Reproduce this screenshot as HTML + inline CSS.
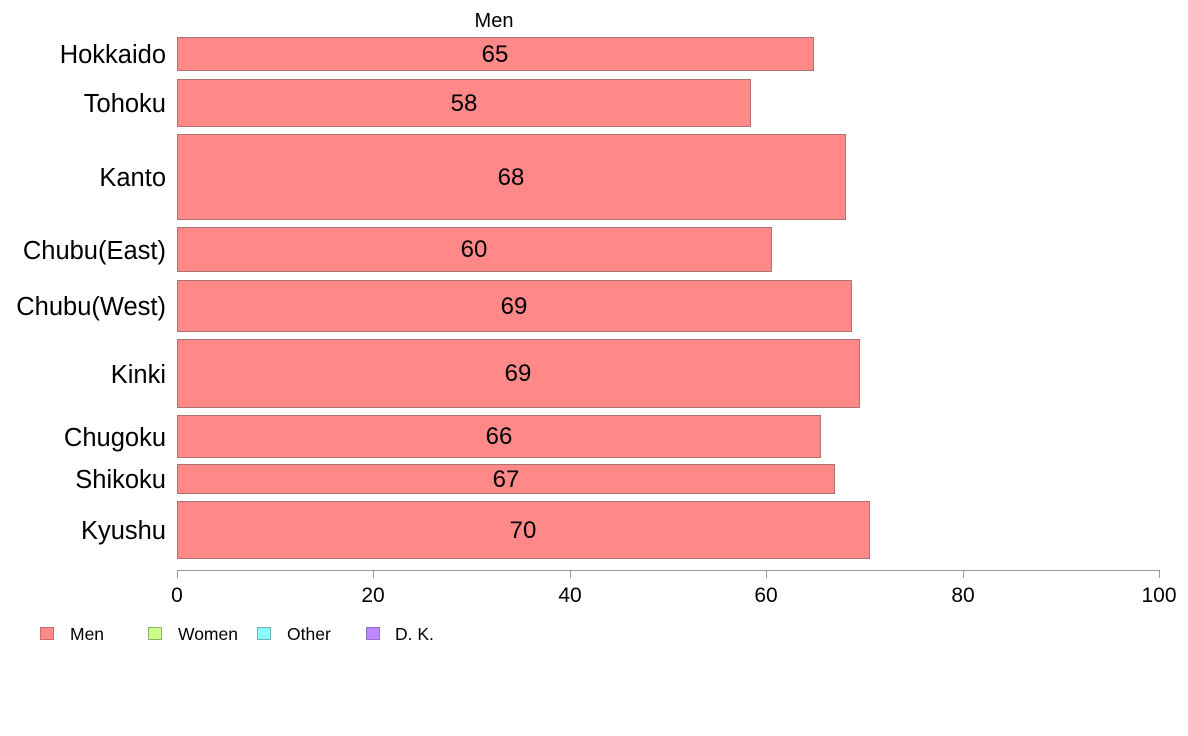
<!DOCTYPE html>
<html><head><meta charset="utf-8"><style>
html,body{margin:0;padding:0;background:#fff;}
svg{display:block;font-family:"Liberation Sans",Arial,sans-serif;}
</style></head><body>
<svg width="1188" height="736" viewBox="0 0 1188 736" xmlns="http://www.w3.org/2000/svg">
<text x="494" y="27" font-size="20" text-anchor="middle">Men</text>
<g fill="#ff8888" stroke="#b07070" stroke-width="1">
<rect x="177.5" y="37.5" width="636" height="33"/>
<rect x="177.5" y="79.5" width="573" height="47"/>
<rect x="177.5" y="134.5" width="668" height="85"/>
<rect x="177.5" y="227.5" width="594" height="44"/>
<rect x="177.5" y="280.5" width="674" height="51"/>
<rect x="177.5" y="339.5" width="682" height="68"/>
<rect x="177.5" y="415.5" width="643" height="42"/>
<rect x="177.5" y="464.5" width="657" height="29"/>
<rect x="177.5" y="501.5" width="692" height="57"/>
</g>
<g font-size="24" text-anchor="middle">
<text x="495" y="62">65</text>
<text x="464" y="111">58</text>
<text x="511" y="185">68</text>
<text x="474" y="257">60</text>
<text x="514" y="314">69</text>
<text x="518" y="381">69</text>
<text x="499" y="444">66</text>
<text x="506" y="487">67</text>
<text x="523" y="538">70</text>
</g>
<g font-size="25.5" text-anchor="end">
<text x="166" y="63">Hokkaido</text>
<text x="166" y="112">Tohoku</text>
<text x="166" y="186">Kanto</text>
<text x="166" y="259">Chubu(East)</text>
<text x="166" y="315">Chubu(West)</text>
<text x="166" y="383">Kinki</text>
<text x="166" y="446">Chugoku</text>
<text x="166" y="488">Shikoku</text>
<text x="166" y="539">Kyushu</text>
</g>
<g stroke="#999" stroke-width="1">
<line x1="177" y1="570.5" x2="1159" y2="570.5"/>
<line x1="177.5" y1="570" x2="177.5" y2="578"/>
<line x1="373.5" y1="570" x2="373.5" y2="578"/>
<line x1="570.5" y1="570" x2="570.5" y2="578"/>
<line x1="766.5" y1="570" x2="766.5" y2="578"/>
<line x1="963.5" y1="570" x2="963.5" y2="578"/>
<line x1="1159.5" y1="570" x2="1159.5" y2="578"/>
</g>
<g font-size="21" text-anchor="middle">
<text x="177" y="602">0</text>
<text x="373" y="602">20</text>
<text x="570" y="602">40</text>
<text x="766" y="602">60</text>
<text x="963" y="602">80</text>
<text x="1159" y="602">100</text>
</g>
<g stroke-width="1">
<rect x="40.5" y="627.5" width="13" height="12" fill="#ff8888" stroke="#c07070"/>
<rect x="148.5" y="627.5" width="13" height="12" fill="#ccff88" stroke="#90b070"/>
<rect x="257.5" y="627.5" width="13" height="12" fill="#88ffff" stroke="#70b0b0"/>
<rect x="366.5" y="627.5" width="13" height="12" fill="#bb88ff" stroke="#9070c0"/>
</g>
<g font-size="17.5">
<text x="70" y="640">Men</text>
<text x="178" y="640">Women</text>
<text x="287" y="640">Other</text>
<text x="395" y="640">D. K.</text>
</g>
</svg>
</body></html>
